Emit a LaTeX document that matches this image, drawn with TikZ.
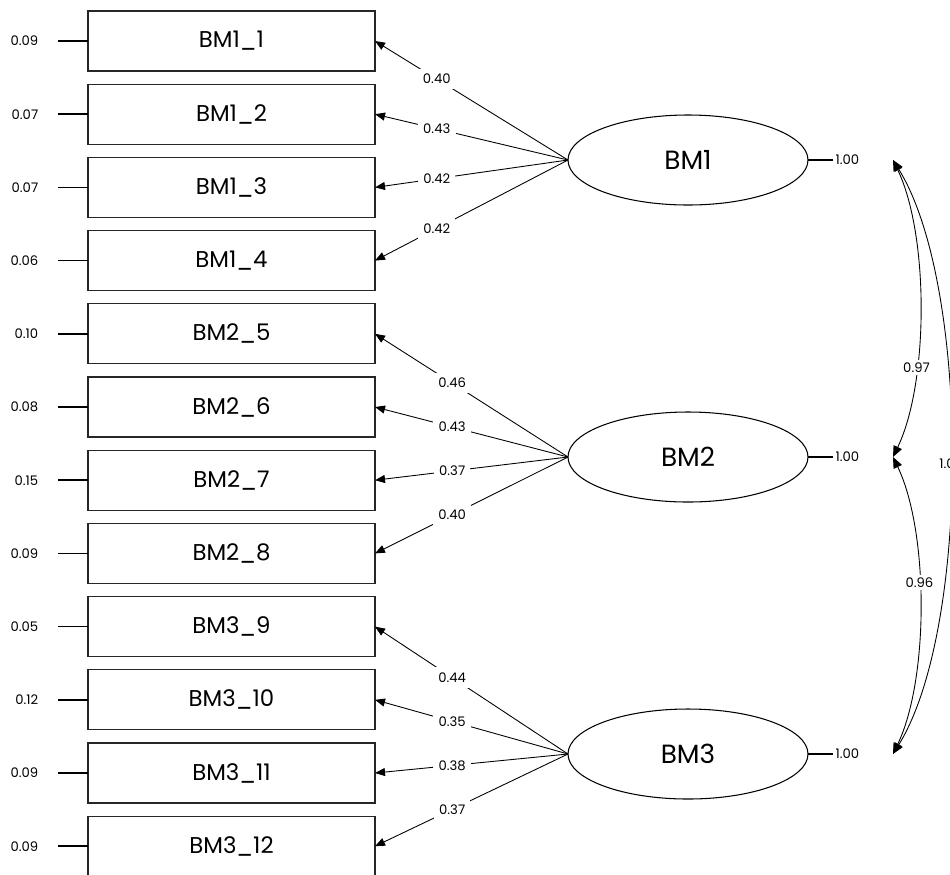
\documentclass[tikz,border=0pt]{standalone}
\usepackage{fontspec}
\setmainfont{Poppins}
\usetikzlibrary{shapes,arrows.meta,positioning}

\begin{document}
\begin{tikzpicture}[
    obsbox/.style={rectangle, draw=black!85, line width=0.6pt, minimum width=5.74cm, minimum height=1.2cm, inner sep=0pt, outer sep=0pt, align=center, font=\fontsize{13}{15}\selectfont},
    latent/.style={ellipse, draw, line width=0.6pt, minimum width=4.8cm, minimum height=1.8cm, inner sep=0pt, outer sep=0pt, font=\fontsize{15}{18}\selectfont},
    arrow/.style={-{Triangle[length=2mm,width=1.6mm]}, line width=0.5pt},
    biarrow/.style={{Triangle[length=2.2mm,width=1.8mm]}-{Triangle[length=2.2mm,width=1.8mm]}, line width=0.5pt},
    coef/.style={fill=white, inner sep=3pt, font=\fontsize{7.5}{9}\selectfont},
    resid/.style={inner sep=0pt, font=\fontsize{7.5}{9}\selectfont},
    errline/.style={line width=0.9pt}
]
\useasboundingbox (0,0) rectangle (19,-17.48);
\clip (0,0) rectangle (19,-17.48);

% Observed items
\node[obsbox] (b1) at (4.63,-0.82) {BM1\_1};
\node[obsbox, below=0.264cm of b1] (b2) {BM1\_2};
\node[obsbox, below=0.264cm of b2] (b3) {BM1\_3};
\node[obsbox, below=0.264cm of b3] (b4) {BM1\_4};
\node[obsbox, below=0.264cm of b4] (b5) {BM2\_5};
\node[obsbox, below=0.264cm of b5] (b6) {BM2\_6};
\node[obsbox, below=0.264cm of b6] (b7) {BM2\_7};
\node[obsbox, below=0.264cm of b7] (b8) {BM2\_8};
\node[obsbox, below=0.264cm of b8] (b9) {BM3\_9};
\node[obsbox, below=0.264cm of b9] (b10) {BM3\_10};
\node[obsbox, below=0.264cm of b10] (b11) {BM3\_11};
\node[obsbox, below=0.264cm of b11] (b12) {BM3\_12};

% Latent factors
\node[latent] (lat1) at (13.76,-3.2) {BM1};
\node[latent, below=4.14cm of lat1] (lat2) {BM2};
\node[latent, below=4.14cm of lat2] (lat3) {BM3};

% Residual variances
\draw[errline] (b1.west) -- ++(-0.6,0) node[resid, left=0.38cm] (e1) {0.09};
\draw[errline] (b2.west) -- ++(-0.6,0) node[resid, left=0.38cm] (e2) {0.07};
\draw[errline] (b3.west) -- ++(-0.6,0) node[resid, left=0.38cm] (e3) {0.07};
\draw[errline] (b4.west) -- ++(-0.6,0) node[resid, left=0.38cm] (e4) {0.06};
\draw[errline] (b5.west) -- ++(-0.6,0) node[resid, left=0.38cm] (e5) {0.10};
\draw[errline] (b6.west) -- ++(-0.6,0) node[resid, left=0.38cm] (e6) {0.08};
\draw[errline] (b7.west) -- ++(-0.6,0) node[resid, left=0.38cm] (e7) {0.15};
\draw[errline] (b8.west) -- ++(-0.6,0) node[resid, left=0.38cm] (e8) {0.09};
\draw[errline] (b9.west) -- ++(-0.6,0) node[resid, left=0.38cm] (e9) {0.05};
\draw[errline] (b10.west) -- ++(-0.6,0) node[resid, left=0.38cm] (e10) {0.12};
\draw[errline] (b11.west) -- ++(-0.6,0) node[resid, left=0.38cm] (e11) {0.09};
\draw[errline] (b12.west) -- ++(-0.6,0) node[resid, left=0.38cm] (e12) {0.09};

% Loadings
\draw[arrow] (lat1.west) -- node[coef, pos=0.68] (l1) {0.40} (b1.east);
\draw[arrow] (lat1.west) -- node[coef, pos=0.68] (l2) {0.43} (b2.east);
\draw[arrow] (lat1.west) -- node[coef, pos=0.68] (l3) {0.42} (b3.east);
\draw[arrow] (lat1.west) -- node[coef, pos=0.68] (l4) {0.42} (b4.east);
\draw[arrow] (lat2.west) -- node[coef, pos=0.6] (l5) {0.46} (b5.east);
\draw[arrow] (lat2.west) -- node[coef, pos=0.6] (l6) {0.43} (b6.east);
\draw[arrow] (lat2.west) -- node[coef, pos=0.6] (l7) {0.37} (b7.east);
\draw[arrow] (lat2.west) -- node[coef, pos=0.6] (l8) {0.40} (b8.east);
\draw[arrow] (lat3.west) -- node[coef, pos=0.6] (l9) {0.44} (b9.east);
\draw[arrow] (lat3.west) -- node[coef, pos=0.6] (l10) {0.35} (b10.east);
\draw[arrow] (lat3.west) -- node[coef, pos=0.6] (l11) {0.38} (b11.east);
\draw[arrow] (lat3.west) -- node[coef, pos=0.6] (l12) {0.37} (b12.east);

% Factor variances
\draw[errline] (lat1.east) -- ++(0.5,0) node[resid, right=1pt] (v1) {1.00};
\draw[errline] (lat2.east) -- ++(0.5,0) node[resid, right=1pt] (v2) {1.00};
\draw[errline] (lat3.east) -- ++(0.5,0) node[resid, right=1pt] (v3) {1.00};

% Covariances
\coordinate (c1) at ([xshift=1.7cm]lat1.east);
\coordinate (c2) at ([xshift=1.7cm]lat2.east);
\coordinate (c3) at ([xshift=1.7cm]lat3.east);
\draw[biarrow] (c1) .. controls +(0.72,-1.5) and +(0.72,1.5) .. node[coef, inner sep=1.5pt, pos=0.68] (r12) {0.97} (c2);
\draw[biarrow] (c2) .. controls +(0.72,-1.5) and +(0.72,1.5) .. node[coef, inner sep=1.5pt, pos=0.43] (r23) {0.96} (c3);
\draw[biarrow] (c1) .. controls +(1.55,-2.5) and +(1.55,2.5) .. node[coef, inner sep=1.5pt, pos=0.51] (r13) {1.00} (c3);

\end{tikzpicture}
\end{document}
